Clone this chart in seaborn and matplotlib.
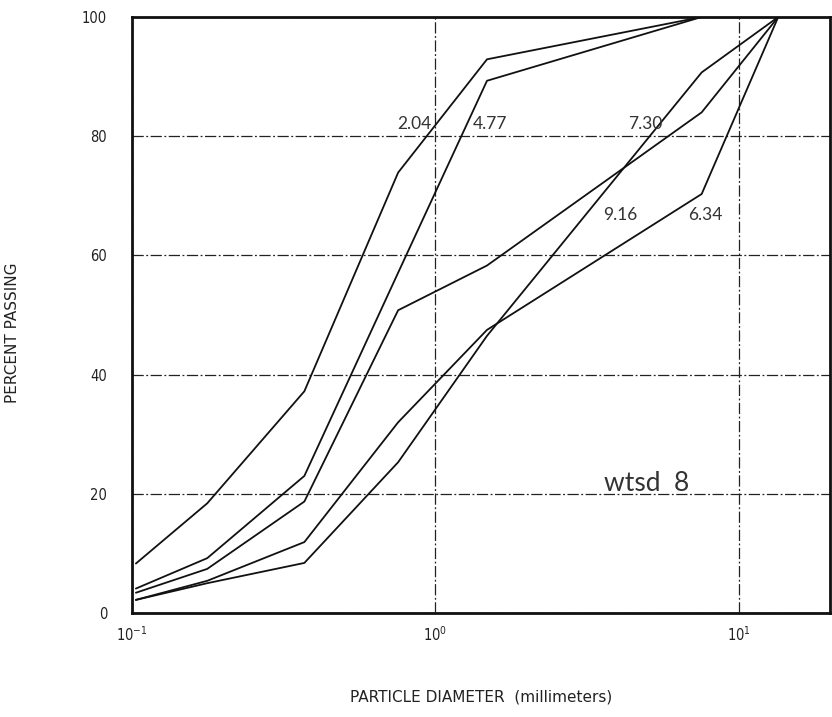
import matplotlib
matplotlib.use("Agg")
import matplotlib.pyplot as plt
from matplotlib import font_manager
import seaborn as sns
import pandas as pd

# ---- data ----
diameter_mm = [0.103, 0.177, 0.37, 0.754, 1.48, 7.55, 13.5]
curve_204 = [8.3, 18.4, 37.2, 73.9, 92.9, 100, 100]
curve_477 = [4.1, 9.2, 23.0, 57.1, 89.3, 100, 100]
curve_730 = [3.4, 7.4, 18.7, 50.8, 58.3, 84.0, 100]
curve_916 = [2.2, 5.0, 8.4, 25.3, 46.5, 90.7, 100]
curve_634 = [2.2, 5.4, 11.9, 32.0, 47.5, 70.3, 100]
curve_names = ["2.04", "4.77", "7.30", "9.16", "6.34"]
y_ticks = [0, 20, 40, 60, 80, 100]
x_ticks = [0.1, 1, 10]
x_tick_labels = ["$10^{-1}$", "$10^{0}$", "$10^{1}$"]

rows = []
for name, vals in zip(curve_names, [curve_204, curve_477, curve_730, curve_916, curve_634]):
    for d, v in zip(diameter_mm, vals):
        rows.append({"diameter": d, "percent": v, "sample": name})
df = pd.DataFrame(rows)

sns.set_style("white")
avail = {f.name for f in font_manager.fontManager.ttflist}
thin = "Lato" if "Lato" in avail else "DejaVu Sans"
plt.rcParams["font.family"] = ["DejaVu Sans"]
plt.rcParams["font.stretch"] = "condensed"
plt.rcParams["mathtext.fontset"] = "dejavusans"

fig = plt.figure(figsize=(8.32, 7.17), dpi=100)
ax = fig.add_axes([132 / 832, 1 - 613 / 717, (830 - 132) / 832, (613 - 17) / 717])

sns.lineplot(data=df, x="diameter", y="percent", hue="sample",
             palette=["#111111"] * 5, estimator=None, sort=False,
             linewidth=1.3, legend=False, ax=ax)

ax.set_xscale("log")
ax.set_xlim(0.1, 20)
ax.set_ylim(0, 100)
ax.set_xticks(x_ticks)
ax.set_xticklabels(x_tick_labels)
ax.set_xticks([], minor=True)
ax.set_yticks(y_ticks)
ax.set_yticklabels([str(t) for t in y_ticks])
ax.tick_params(axis="both", length=0, labelsize=10.5, colors="#222222")
ax.tick_params(axis="y", pad=18)
ax.tick_params(axis="x", pad=9)

for s in ax.spines.values():
    s.set_linewidth(2.0)
    s.set_color("#111111")

ax.grid(True, which="major", color="#222222", linewidth=0.9,
        linestyle=(0, (9, 2, 1.5, 2)))

ax.set_xlabel("PARTICLE DIAMETER  (millimeters)", fontsize=11, color="#222222",
              fontstretch="normal")
ax.set_ylabel("PERCENT PASSING", fontsize=11, color="#222222", fontstretch="normal")
ax.xaxis.set_label_coords(0.5, (613 - 697) / 596 + 0.012)
ax.yaxis.set_label_coords((20 - 132) / 698, 0.47)

lab_kw = dict(fontsize=12.5, color="#333333", family=[thin, "DejaVu Sans"],
              fontweight="normal", fontstretch="normal")
ax.text(0.85, 80.7, "2.04", ha="center", va="bottom", **lab_kw)
ax.text(1.51, 80.7, "4.77", ha="center", va="bottom", **lab_kw)
ax.text(4.94, 80.7, "7.30", ha="center", va="bottom", **lab_kw)
ax.text(4.06, 66.8, "9.16", ha="center", va="center", **lab_kw)
ax.text(7.78, 66.8, "6.34", ha="center", va="center", **lab_kw)
ax.text(4.99, 21.8, "wtsd  8", ha="center", va="center", fontsize=19,
        color="#333333", family=[thin, "DejaVu Sans"], fontweight="normal",
        fontstretch="normal")

fig.savefig("out.png", dpi=100)
